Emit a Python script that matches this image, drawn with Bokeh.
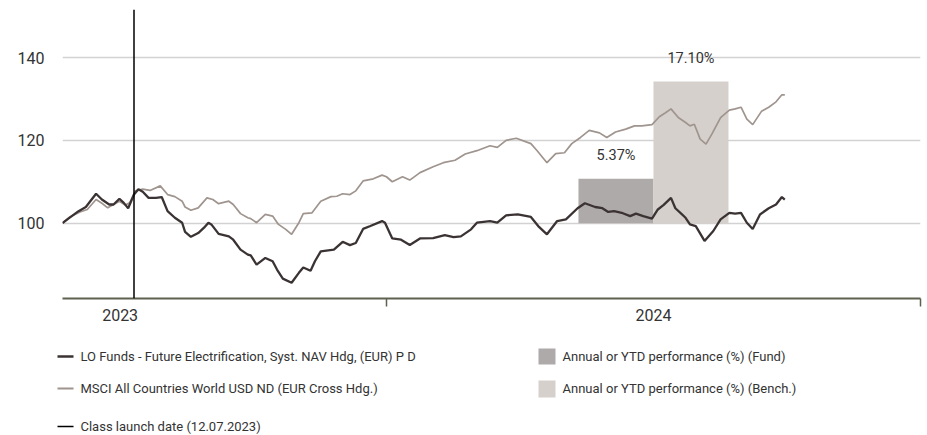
import pandas as pd
from bokeh.plotting import figure
from bokeh.models import Range1d, FixedTicker, Span, CustomJSTickFormatter
from bokeh.layouts import column
from bokeh.embed import file_html
from bokeh.resources import INLINE
from bokeh.core.properties import value

# ---------------- data ----------------
fund_name = "LO Funds - Future Electrification, Syst. NAV Hdg, (EUR) P D"
bench_name = "MSCI All Countries World USD ND (EUR Cross Hdg.)"
launch_label = "Class launch date (12.07.2023)"
launch_date = "2023-07-12"

fund_dates = ["2023-05-24","2023-05-28","2023-06-04","2023-06-09","2023-06-16","2023-06-20","2023-06-25","2023-06-28","2023-07-02","2023-07-05",
              "2023-07-08","2023-07-12","2023-07-15","2023-07-18","2023-07-22","2023-07-27","2023-07-31","2023-08-04","2023-08-09","2023-08-14",
              "2023-08-16","2023-08-20","2023-08-25","2023-08-29","2023-09-01","2023-09-03","2023-09-08","2023-09-15","2023-09-18","2023-09-23",
              "2023-09-28","2023-09-30","2023-10-04","2023-10-10","2023-10-15","2023-10-18","2023-10-22","2023-10-28","2023-11-02","2023-11-05",
              "2023-11-10","2023-11-13","2023-11-17","2023-11-26","2023-12-02","2023-12-07","2023-12-11","2023-12-16","2023-12-21","2023-12-29",
              "2023-12-31","2024-01-05","2024-01-11","2024-01-17","2024-01-24","2024-02-02","2024-02-10","2024-02-16","2024-02-21","2024-02-28",
              "2024-03-03","2024-03-12","2024-03-17","2024-03-23","2024-03-31","2024-04-09","2024-04-14","2024-04-20","2024-04-27","2024-05-03",
              "2024-05-11","2024-05-16","2024-05-23","2024-05-28","2024-06-01","2024-06-05","2024-06-11","2024-06-16","2024-06-20","2024-06-25",
              "2024-07-01","2024-07-05","2024-07-09","2024-07-14","2024-07-17","2024-07-21","2024-07-24","2024-07-27","2024-07-31","2024-08-06",
              "2024-08-12","2024-08-17","2024-08-23","2024-08-27","2024-08-31","2024-09-04","2024-09-08","2024-09-13","2024-09-19","2024-09-24",
              "2024-09-28","2024-09-30"]
fund_values = [100.0,101.1,102.9,103.9,107.1,105.7,104.5,104.5,105.9,104.9,
               103.6,106.9,108.2,107.6,106.1,106.1,106.3,102.9,101.3,100.1,
               97.9,96.7,97.6,98.9,100.1,99.7,97.4,96.8,96.0,93.6,
               92.4,92.2,90.0,91.6,90.8,88.8,86.6,85.6,88.0,89.3,
               88.5,90.8,93.2,93.6,95.5,94.7,95.2,98.6,99.3,100.5,
               100.1,96.3,96.0,94.7,96.3,96.4,97.1,96.6,96.8,98.5,
               100.1,100.5,100.1,101.9,102.1,101.5,99.3,97.3,100.5,100.9,
               103.6,104.8,103.9,103.6,102.7,102.9,102.4,101.7,102.3,101.7,
               101.1,103.3,104.4,106.1,103.6,102.3,101.3,99.7,99.3,95.7,
               98.1,100.9,102.5,102.3,102.5,100.1,98.6,102.1,103.6,104.5,
               106.3,105.7]

bench_dates = ["2023-05-24","2023-05-29","2023-06-05","2023-06-10","2023-06-16","2023-06-20","2023-06-24","2023-06-28","2023-07-02","2023-07-06",
               "2023-07-09","2023-07-13","2023-07-18","2023-07-23","2023-07-30","2023-08-04","2023-08-09","2023-08-14","2023-08-16","2023-08-20",
               "2023-08-25","2023-08-31","2023-09-04","2023-09-08","2023-09-15","2023-09-18","2023-09-23","2023-09-28","2023-09-30","2023-10-04",
               "2023-10-10","2023-10-15","2023-10-19","2023-10-24","2023-10-28","2023-11-02","2023-11-05","2023-11-11","2023-11-17","2023-11-24",
               "2023-11-28","2023-12-02","2023-12-07","2023-12-11","2023-12-16","2023-12-23","2023-12-29","2024-01-01","2024-01-05","2024-01-12",
               "2024-01-17","2024-01-24","2024-02-02","2024-02-09","2024-02-17","2024-02-24","2024-03-03","2024-03-12","2024-03-17","2024-03-23",
               "2024-03-30","2024-04-09","2024-04-13","2024-04-20","2024-04-26","2024-05-02","2024-05-07","2024-05-13","2024-05-19","2024-05-26",
               "2024-05-31","2024-06-06","2024-06-13","2024-06-19","2024-06-24","2024-07-01","2024-07-06","2024-07-10","2024-07-14","2024-07-19",
               "2024-07-24","2024-07-27","2024-07-30","2024-08-03","2024-08-07","2024-08-11","2024-08-17","2024-08-23","2024-08-27","2024-08-31",
               "2024-09-04","2024-09-08","2024-09-14","2024-09-19","2024-09-24","2024-09-28","2024-09-30"]
bench_values = [100.0,101.5,102.7,103.3,105.7,104.8,103.7,104.5,105.3,104.4,
                104.9,107.8,108.2,107.9,109.0,106.9,106.4,105.3,103.9,103.1,
                103.7,106.1,105.7,104.7,105.3,104.5,102.3,101.3,101.1,100.1,
                102.1,101.7,99.7,98.5,97.3,100.1,102.3,102.5,105.3,106.4,
                106.5,107.1,106.9,107.8,110.2,110.7,111.6,111.2,110.0,111.2,
                110.4,112.2,113.6,114.6,115.2,116.7,117.5,118.7,118.3,120.0,
                120.5,119.2,117.6,114.6,116.8,117.0,119.2,120.7,122.4,121.8,
                120.7,122.0,122.7,123.5,123.5,123.8,125.7,126.6,127.6,125.5,
                124.3,123.5,123.9,120.3,119.1,121.5,125.5,127.3,127.6,128.0,
                125.1,123.8,127.0,128.0,129.3,131.0,131.0]

perf_year = "2024"
fund_perf = 5.37
bench_perf = 17.10
perf_labels = ["5.37%", "17.10%"]

y_ticks = [100, 120, 140]
years = ["2023", "2024"]
axis_start = "2023-05-24"
axis_end = "2025-01-01"

# ---------------- style ----------------
FONT = "Roboto"
FUND_C = "#3b3333"
BENCH_C = "#9f948e"
FUND_BAR = "#aeaaa9"
BENCH_BAR = "#d5d0cc"
TXT = "#333333"
AXIS_C = "#5e6150"


def ms(s):
    return pd.Timestamp(s).value / 1e6


DAY = 86400000.0

p = figure(width=927, height=330, x_axis_type="datetime",
           x_range=Range1d(ms(axis_start), ms(axis_end)),
           y_range=Range1d(81.8, 151.6),
           output_backend="svg", toolbar_location=None,
           min_border_left=62, min_border_right=7, min_border_top=9, min_border_bottom=32)
p.frame_align = False
p.outline_line_color = None
p.background_fill_color = "white"
p.border_fill_color = "white"

p.xgrid.visible = False
p.ygrid.ticker = FixedTicker(ticks=y_ticks)
p.ygrid.grid_line_color = "#d2d2d2"
p.ygrid.grid_line_width = 1.6

# y axis
p.yaxis.ticker = FixedTicker(ticks=y_ticks)
p.yaxis.axis_line_color = None
p.yaxis.major_tick_line_color = None
p.yaxis.minor_tick_line_color = None
p.yaxis.major_tick_out = 0
p.yaxis.major_label_standoff = 18
p.yaxis.major_label_text_font = FONT
p.yaxis.major_label_text_font_size = "16px"
p.yaxis.major_label_text_color = TXT

# x axis: labels centered in each year, ticks at year boundaries
mids = []
bounds = []
for y in years:
    a = ms(f"{y}-01-01")
    b = ms(f"{int(y) + 1}-01-01")
    mids.append((a + b) / 2)
    bounds.append(b)
p.xaxis.ticker = FixedTicker(ticks=mids, minor_ticks=bounds)
p.xaxis.formatter = CustomJSTickFormatter(code="return String(new Date(tick).getUTCFullYear());")
p.xaxis.axis_line_color = AXIS_C
p.xaxis.axis_line_width = 2
p.xaxis.major_tick_in = 0
p.xaxis.major_tick_out = 0
p.xaxis.minor_tick_in = 0
p.xaxis.minor_tick_out = 8
p.xaxis.minor_tick_line_color = AXIS_C
p.xaxis.minor_tick_line_width = 1.5
p.xaxis.major_label_standoff = 2
p.xaxis.major_label_text_font = FONT
p.xaxis.major_label_text_font_size = "16px"
p.xaxis.major_label_text_color = TXT

# performance bars (centered in the year span)
ya = ms(f"{perf_year}-01-01")
yb = ms(f"{int(perf_year) + 1}-01-01")
mid = (ya + yb) / 2
bw = 51.4 * DAY
tops = [100 + 2 * fund_perf, 100 + 2 * bench_perf]
p.quad(left=[mid - bw], right=[mid], bottom=[100], top=[tops[0]], fill_color=FUND_BAR, line_color=None)
p.quad(left=[mid], right=[mid + bw], bottom=[100], top=[tops[1]], fill_color=BENCH_BAR, line_color=None)
p.text(x=[mid - bw / 2, mid + bw / 2], y=tops, text=perf_labels, y_offset=-23,
       text_align="center", text_baseline="middle", text_font=value(FONT),
       text_font_size="14.5px", text_color=TXT)

# lines
p.line([ms(d) for d in bench_dates], bench_values, line_color=BENCH_C, line_width=1.7)
p.line([ms(d) for d in fund_dates], fund_values, line_color=FUND_C, line_width=2.3)

p.add_layout(Span(location=ms(launch_date), dimension="height", line_color="black", line_width=1.5))

# ---------------- legend ----------------
LH = 105
leg = figure(width=927, height=LH, x_range=Range1d(0, 927), y_range=Range1d(LH, 0),
             x_axis_location=None, y_axis_location=None,
             output_backend="svg", toolbar_location=None, min_border=0)
leg.frame_align = False
leg.grid.visible = False
leg.outline_line_color = None
leg.segment(x0=[57], x1=[73], y0=[26], y1=[26], line_color=FUND_C, line_width=2.5)
leg.segment(x0=[57], x1=[73], y0=[58], y1=[58], line_color=BENCH_C, line_width=2)
leg.segment(x0=[57], x1=[73], y0=[96], y1=[96], line_color="black", line_width=1.5)
leg.text(x=[80, 80, 80], y=[26, 58, 96], text=[fund_name, bench_name, launch_label],
         text_align="left", text_baseline="middle", text_font=value(FONT),
         text_font_size="13px", text_color=TXT)
leg.quad(left=[538, 538], right=[555, 555], top=[18, 50], bottom=[34, 67],
         fill_color=[FUND_BAR, BENCH_BAR], line_color=None)
leg.text(x=[562, 562], y=[26, 58],
         text=["Annual or YTD performance (%) (Fund)", "Annual or YTD performance (%) (Bench.)"],
         text_align="left", text_baseline="middle", text_font=value(FONT),
         text_font_size="13px", text_color=TXT)

layout = column(p, leg, spacing=0)
open("out.html", "w").write(file_html(layout, INLINE))
